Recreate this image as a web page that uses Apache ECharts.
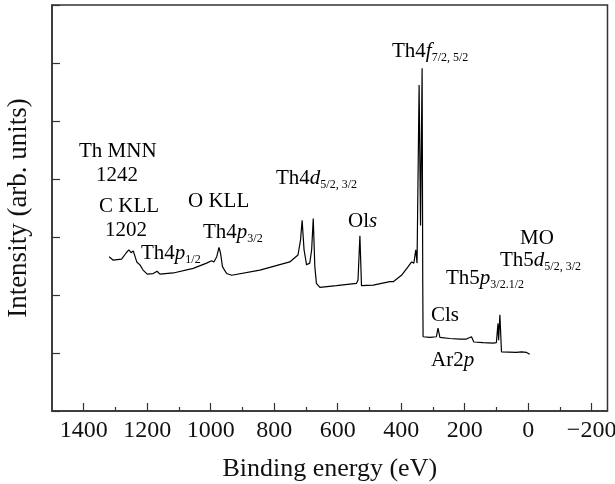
<!DOCTYPE html>
<html>
<head>
<meta charset="utf-8">
<script src="https://cdn.jsdelivr.net/npm/echarts@6/dist/echarts.min.js"></script>
<style>
  html, body { margin: 0; padding: 0; background: #fff; }
  #chart { width: 615px; height: 484px; }
</style>
</head>
<body>
<div id="chart"></div>
<script>
// XPS survey spectrum, binding energy (eV) vs intensity (arb. units)
var energy = [1320, 1307, 1281, 1267, 1258, 1251, 1244, 1233, 1223, 1213, 1200, 1181, 1169, 1160, 1118,
  1055, 1013, 997, 990, 981, 974, 969, 963, 950, 934, 845, 751, 725, 717, 712, 706, 698, 688, 682,
  677, 672, 667, 656, 604, 541, 536, 530, 525, 488, 436, 430, 425, 399, 378, 367, 360, 354, 350,
  343.5, 339, 334, 332, 331, 310, 289, 284, 278, 247, 215, 194, 178.5, 171, 142, 110, 100, 95, 93,
  89, 84, 79, 37, 21, 16, 5, -5];
var intensity = [2.66, 2.60, 2.62, 2.72, 2.78, 2.73, 2.76, 2.57, 2.52, 2.43, 2.36, 2.37, 2.41, 2.36, 2.38,
  2.46, 2.55, 2.59, 2.57, 2.66, 2.82, 2.72, 2.49, 2.37, 2.34, 2.43, 2.57, 2.69, 2.95, 3.29, 2.78, 2.52, 2.55, 2.78,
  3.32, 2.49, 2.20, 2.13, 2.16, 2.20, 2.26, 3.02, 2.16, 2.17, 2.23, 2.26, 2.23, 2.34, 2.49, 2.57, 2.55, 2.78, 2.55,
  5.62, 3.2, 5.91, 2.2, 1.28, 1.27, 1.28, 1.43, 1.27, 1.25, 1.24, 1.24, 1.28, 1.19, 1.18, 1.17, 1.18, 1.51, 1.22,
  1.66, 1.02, 1.02, 1.01, 1.02, 1.04, 1.01, 0.98];

var majorTicks = [1400, 1200, 1000, 800, 600, 400, 200, 0, -200];
var minorTicks = [1300, 1100, 900, 700, 500, 300, 100, -100];

// peak labels: rich text, left x, baseline y (pixels)
var notes = [
  ['{m|Th4}{i|f}{s|7/2, 5/2}', 392, 58],
  ['{m|Th MNN}', 79, 158],
  ['{m|1242}', 96, 182],
  ['{m|C KLL}', 99, 213],
  ['{m|1202}', 105, 237],
  ['{m|O KLL}', 188, 208],
  ['{m|Th4}{i|p}{s|3/2}', 203, 239],
  ['{m|Th4}{i|p}{s|1/2}', 141, 260],
  ['{m|Th4}{i|d}{s|5/2, 3/2}', 276, 185],
  ['{m|Ol}{i|s}', 348, 228],
  ['{m|MO}', 520, 245],
  ['{m|Th5}{i|d}{s|5/2, 3/2}', 500, 267],
  ['{m|Th5}{i|p}{s|3/2.1/2}', 446, 285],
  ['{m|Cls}', 431, 322],
  ['{m|Ar2}{i|p}', 431, 367]
];

var serif = "'Liberation Serif', 'Times New Roman', serif";
var points = energy.map(function (e, i) { return [e, intensity[i]]; });

var rich = {
  m: { fontFamily: serif, fontSize: 21, lineHeight: 22, color: '#111' },
  i: { fontFamily: serif, fontSize: 21, lineHeight: 22, fontStyle: 'italic', color: '#111' },
  s: { fontFamily: serif, fontSize: 12, lineHeight: 12, padding: [13, 0, 0, 0], color: '#111' }
};

var chart = echarts.init(document.getElementById('chart'));
chart.setOption({
  animation: false,
  grid: {
    left: 52, right: 7.5, top: 5, bottom: 73,
    outerBoundsMode: 'none', containLabel: false,
    show: true, borderColor: '#333', borderWidth: 1.5
  },
  xAxis: [
    {
      type: 'value', min: -250, max: 1500, inverse: true, position: 'bottom',
      axisLine: { show: true, onZero: false, lineStyle: { color: '#333', width: 1.5 } },
      axisTick: { inside: true, length: 8, customValues: majorTicks, lineStyle: { color: '#333', width: 1.2 } },
      axisLabel: {
        customValues: majorTicks, margin: 8, fontSize: 24, fontFamily: serif, color: '#111',
        formatter: function (v) { return v < 0 ? '\u2212' + (-v) : String(v); }
      },
      splitLine: { show: false },
      name: 'Binding energy (eV)', nameLocation: 'middle', nameGap: 45,
      nameTextStyle: { fontSize: 26, fontFamily: serif, color: '#111' }
    },
    {
      type: 'value', min: -250, max: 1500, inverse: true, position: 'bottom',
      axisLine: { show: false, onZero: false },
      axisTick: { inside: true, length: 4, customValues: minorTicks, lineStyle: { color: '#333', width: 1.2 } },
      axisLabel: { show: false },
      splitLine: { show: false }
    }
  ],
  yAxis: {
    type: 'value', min: 0, max: 7, interval: 1,
    axisLine: { show: true, onZero: false, lineStyle: { color: '#333', width: 1.5 } },
    axisTick: { inside: true, length: 8, lineStyle: { color: '#333', width: 1.2 } },
    axisLabel: { show: false },
    splitLine: { show: false },
    name: 'Intensity (arb. units)', nameLocation: 'middle', nameGap: 20,
    nameTextStyle: { fontSize: 27, fontFamily: serif, color: '#111' }
  },
  series: [{
    type: 'line',
    data: points,
    showSymbol: false,
    lineStyle: { color: '#000', width: 1.2 }
  }],
  graphic: notes.map(function (n) {
    return {
      type: 'text', x: n[1], y: n[2] - 7,
      style: { text: n[0], rich: rich, verticalAlign: 'middle', align: 'left' }
    };
  })
});
</script>
</body>
</html>
